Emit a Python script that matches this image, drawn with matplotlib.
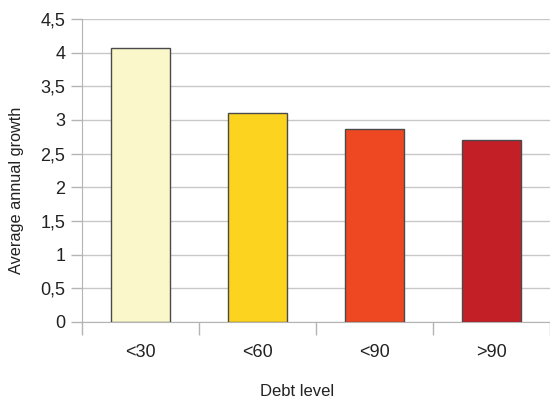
import matplotlib
matplotlib.use("Agg")
import matplotlib.pyplot as plt
from matplotlib.ticker import FuncFormatter

categories = ["<30", "<60", "<90", ">90"]
values = [4.07, 3.10, 2.86, 2.71]
colors = ["#FAF8CB", "#FCD31F", "#EE4823", "#C31F26"]
yticks = [0, 0.5, 1, 1.5, 2, 2.5, 3, 3.5, 4, 4.5]

plt.rcParams['font.family'] = ['Liberation Sans', 'DejaVu Sans']

fig = plt.figure(figsize=(5.5, 4.04), dpi=100)
ax = fig.add_axes([82/550, 82/404, 468/550, 303/404])

x = list(range(len(categories)))
ax.bar(x, values, width=0.5, color=colors, edgecolor="#4a4a4a", linewidth=1.0, zorder=3)

ax.set_xlim(-0.5, len(categories) - 0.5)
ax.set_ylim(0, 4.5)
ax.set_yticks(yticks)
ax.yaxis.set_major_formatter(FuncFormatter(lambda v, p: ("%g" % v).replace(".", ",")))
ax.grid(axis="y", color="#c8c8c8", linewidth=1.0, zorder=0)

ax.set_xticks([i - 0.5 for i in range(len(categories) + 1)])
ax.set_xticklabels([])
ax.set_xticks(x, minor=True)
ax.set_xticklabels(categories, minor=True)
ax.tick_params(axis="x", which="major", length=9, color="#b4b4b4", width=1)
ax.tick_params(axis="x", which="minor", length=0, labelsize=13, pad=16, colors="#222222")
ax.tick_params(axis="y", length=8, color="#b4b4b4", width=1, labelsize=13, pad=4)
ax.tick_params(axis="y", colors="#b4b4b4", labelcolor="#222222")

for s in ["top", "right"]:
    ax.spines[s].set_visible(False)
ax.spines["left"].set_color("#b4b4b4")
ax.spines["bottom"].set_color("#b4b4b4")

ax.set_ylabel("Average annual growth", fontsize=11.7, color="#222222")
ax.yaxis.set_label_coords(-0.139, 0.436)
ax.set_xlabel("Debt level", fontsize=12, color="#222222")
ax.xaxis.set_label_coords(0.46, -0.231)
ax.xaxis.label.set_verticalalignment("center")
ax.yaxis.label.set_verticalalignment("center")

fig.savefig("out.png", dpi=100)
